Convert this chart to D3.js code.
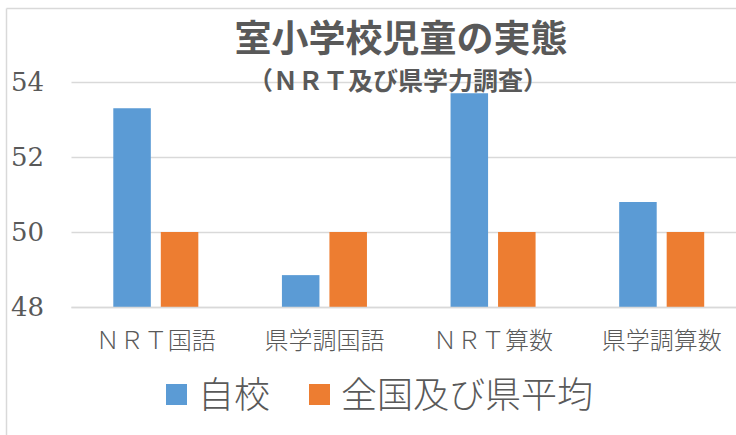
<!DOCTYPE html>
<html>
<head>
<meta charset="utf-8">
<script src="https://cdn.jsdelivr.net/npm/d3@7"></script>
<style>
    body { margin: 0; padding: 0; background: #fff; }
    svg { display: block; }
</style>
</head>
<body>
<div id="chart"></div>
<script>
// chart data
const categories = ['ＮＲＴ国語', '県学調国語', 'ＮＲＴ算数', '県学調算数'];
const seriesNames = ['自校', '全国及び県平均'];
const jikou = [53.3, 48.85, 53.7, 50.8];
const heikin = [50, 50, 50, 50];
const yTicks = [48, 50, 52, 54];

const colors = ['#5B9BD5', '#ED7D31'];
const textColor = '#595959';
const lineColor = '#d9d9d9';

const width = 736, height = 435;

const svg = d3.select('#chart').append('svg')
    .attr('width', width)
    .attr('height', height);

// chart frame (right and bottom edges are cut off in the reference)
svg.append('line').attr('x1', 6.5).attr('x2', width).attr('y1', 8.5).attr('y2', 8.5)
    .attr('stroke', lineColor).attr('stroke-width', 1.5);
svg.append('line').attr('x1', 6.5).attr('x2', 6.5).attr('y1', 8.5).attr('y2', height)
    .attr('stroke', lineColor).attr('stroke-width', 1.5);

// scales
const x0 = d3.scaleBand().domain(categories).range([71.5, 746]).padding(0);
const x1 = d3.scaleBand().domain(seriesNames).range([0, x0.bandwidth()])
    .paddingInner(0.21).paddingOuter(0.88);
const y = d3.scaleLinear().domain([48, 54]).range([307, 82]);

// gridlines
svg.append('g').selectAll('line')
    .data(yTicks)
    .enter().append('line')
    .attr('x1', 71.5).attr('x2', width)
    .attr('y1', d => Math.round(y(d)) + 0.5)
    .attr('y2', d => Math.round(y(d)) + 0.5)
    .attr('stroke', lineColor)
    .attr('stroke-width', 1.5);

// y tick labels
svg.append('g').selectAll('text')
    .data(yTicks)
    .enter().append('text')
    .attr('x', 44)
    .attr('y', d => y(d))
    .attr('dy', '0.36em')
    .attr('text-anchor', 'end')
    .attr('fill', textColor)
    .attr('font-family', 'DejaVu Serif')
    .attr('font-size', 26)
    .text(d => d);

// bars
const rows = categories.map((c, i) => ({ cat: c, values: [jikou[i], heikin[i]] }));
const groups = svg.append('g').selectAll('g')
    .data(rows)
    .enter().append('g')
    .attr('transform', d => `translate(${x0(d.cat)},0)`);

groups.selectAll('rect')
    .data(d => d.values.map((v, j) => ({ name: seriesNames[j], value: v, idx: j })))
    .enter().append('rect')
    .attr('x', d => x1(d.name))
    .attr('width', x1.bandwidth())
    .attr('y', d => y(d.value))
    .attr('height', d => y(48) - y(d.value))
    .attr('fill', d => colors[d.idx]);

// baseline redrawn on top of the bars
svg.append('line')
    .attr('x1', 71.5).attr('x2', width)
    .attr('y1', Math.round(y(48)) + 0.5).attr('y2', Math.round(y(48)) + 0.5)
    .attr('stroke', lineColor).attr('stroke-width', 1.5);

// category labels
svg.append('g').selectAll('text')
    .data(categories)
    .enter().append('text')
    .attr('x', d => x0(d) + x0.bandwidth() / 2)
    .attr('y', 341)
    .attr('dy', '0.35em')
    .attr('text-anchor', 'middle')
    .attr('fill', textColor)
    .style('font-family', '"Noto Sans CJK JP", sans-serif')
    .style('font-weight', 300)
    .style('font-size', '24px')
    .text(d => d);

// titles
svg.append('text')
    .attr('x', 401).attr('y', 39).attr('dy', '0.35em')
    .attr('text-anchor', 'middle')
    .attr('fill', textColor)
    .style('font-family', '"Noto Sans CJK JP", sans-serif')
    .style('font-weight', 700)
    .style('font-size', '37px')
    .text('室小学校児童の実態');

svg.append('text')
    .attr('x', 398).attr('y', 81).attr('dy', '0.35em')
    .attr('text-anchor', 'middle')
    .attr('fill', textColor)
    .style('font-family', '"Noto Sans CJK JP", sans-serif')
    .style('font-weight', 700)
    .style('font-size', '25px')
    .text('（ＮＲＴ及び県学力調査）');

// legend
const legendItems = [
    { name: seriesNames[0], color: colors[0], x: 166 },
    { name: seriesNames[1], color: colors[1], x: 309 }
];
const legend = svg.append('g').selectAll('g')
    .data(legendItems)
    .enter().append('g')
    .attr('transform', d => `translate(${d.x},0)`);

legend.append('rect')
    .attr('x', 0).attr('y', 384)
    .attr('width', 21).attr('height', 21)
    .attr('fill', d => d.color);

legend.append('text')
    .attr('x', 32).attr('y', 395)
    .attr('dy', '0.35em')
    .attr('fill', textColor)
    .style('font-family', '"Noto Sans CJK JP", sans-serif')
    .style('font-weight', 300)
    .style('font-size', '36px')
    .text(d => d.name);
</script>
</body>
</html>
